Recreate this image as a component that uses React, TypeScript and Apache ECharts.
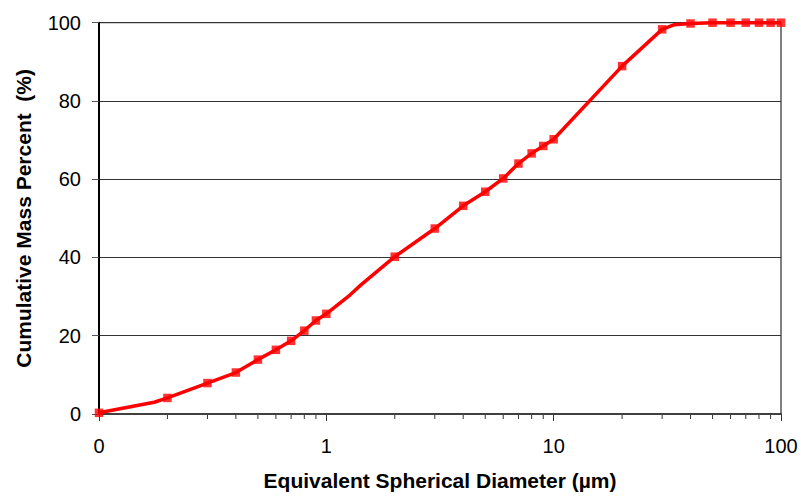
import { useEffect, useRef } from 'react'
import * as echarts from 'echarts'

// marked sample points: diameter (µm) -> cumulative mass percent
const markerSizes = [0.1, 0.2, 0.3, 0.4, 0.5, 0.6, 0.7, 0.8, 0.9, 1, 2, 3, 4, 5, 6, 7, 8, 9, 10, 20, 30, 40, 50, 60, 70, 80, 90, 100]
const markerPercent = [0.3, 4.1, 7.9, 10.6, 13.9, 16.4, 18.7, 21.3, 23.9, 25.6, 40.2, 47.4, 53.2, 56.8, 60.2, 64.0, 66.6, 68.5, 70.2, 88.9, 98.3, 99.8, 100, 100, 100, 100, 100, 100]

// full curve (markers plus a few unmarked bends)
const curveSizes = [0.1, 0.145, 0.175, 0.2, 0.3, 0.4, 0.5, 0.6, 0.7, 0.8, 0.9, 1, 1.27, 1.42, 2, 3, 4, 5, 6, 7, 8, 9, 10, 20, 30, 34, 40, 50, 60, 70, 80, 90, 100]
const curvePercent = [0.3, 2.1, 3.0, 4.1, 7.9, 10.6, 13.9, 16.4, 18.7, 21.3, 23.9, 25.6, 30.4, 33.0, 40.2, 47.4, 53.2, 56.8, 60.2, 64.0, 66.6, 68.5, 70.2, 88.9, 98.3, 99.5, 99.8, 100, 100, 100, 100, 100, 100]

const minorTicks = [0.2, 0.3, 0.4, 0.5, 0.6, 0.7, 0.8, 0.9, 2, 3, 4, 5, 6, 7, 8, 9, 20, 30, 40, 50, 60, 70, 80, 90]

const FONT = 'Arial, "Liberation Sans", sans-serif'

export default function App() {
  const ref = useRef<HTMLDivElement>(null)

  useEffect(() => {
    if (!ref.current) return
    const chart = echarts.init(ref.current, undefined, { renderer: 'svg' })
    chart.setOption({
      animation: false,
      backgroundColor: '#fff',
      textStyle: { fontFamily: FONT },
      grid: { left: 99, right: 20, top: 22.7, bottom: 81.7, show: true, borderColor: '#000', borderWidth: 1 },
      xAxis: {
        type: 'log',
        logBase: 10,
        min: 0.1,
        max: 100,
        name: 'Equivalent Spherical Diameter (µm)',
        nameLocation: 'middle',
        nameGap: 56,
        nameTextStyle: { color: '#000', fontSize: 21, fontWeight: 'bold', fontFamily: FONT },
        axisLine: { lineStyle: { color: '#404040', width: 2 } },
        axisTick: { length: 7, lineStyle: { color: '#333', width: 1 } },
        axisLabel: {
          margin: 22,
          color: '#000',
          fontSize: 20,
          fontFamily: FONT,
          formatter: (v: number) => String(Math.round(v)),
        },
        splitLine: { show: false },
      },
      yAxis: {
        type: 'value',
        min: 0,
        max: 100,
        interval: 20,
        name: 'Cumulative Mass Percent  (%)',
        nameLocation: 'middle',
        nameGap: 65,
        nameTextStyle: { color: '#000', fontSize: 21, fontWeight: 'bold', fontFamily: FONT },
        axisLine: { show: true, lineStyle: { color: '#000', width: 2 } },
        axisTick: { show: true, length: 7, lineStyle: { color: '#555', width: 1 } },
        axisLabel: { margin: 18, color: '#000', fontSize: 20, fontFamily: FONT },
        splitLine: { show: true, lineStyle: { color: '#333', width: 1 } },
      },
      series: [
        {
          type: 'custom',
          silent: true,
          data: minorTicks.map(v => [v, 0]),
          renderItem: (_params: unknown, api: any) => {
            const p = api.coord([api.value(0), 0])
            return {
              type: 'line',
              shape: { x1: p[0], y1: p[1] + 1, x2: p[0], y2: p[1] + 5 },
              style: { stroke: '#333', lineWidth: 1 },
            }
          },
          z: 1,
        },
        {
          type: 'line',
          data: curveSizes.map((s, i) => [s, curvePercent[i]]),
          symbol: 'none',
          lineStyle: { color: '#ff0000', width: 3.5 },
          silent: true,
          z: 3,
        },
        {
          type: 'scatter',
          data: markerSizes.map((s, i) => [s, markerPercent[i]]),
          symbol: 'rect',
          symbolSize: 8.5,
          itemStyle: { color: '#ff0000' },
          silent: true,
          z: 4,
        },
      ],
    })
    return () => chart.dispose()
  }, [])

  return <div ref={ref} style={{ position: 'absolute', left: 0, top: 0, width: 801, height: 496 }} />
}
